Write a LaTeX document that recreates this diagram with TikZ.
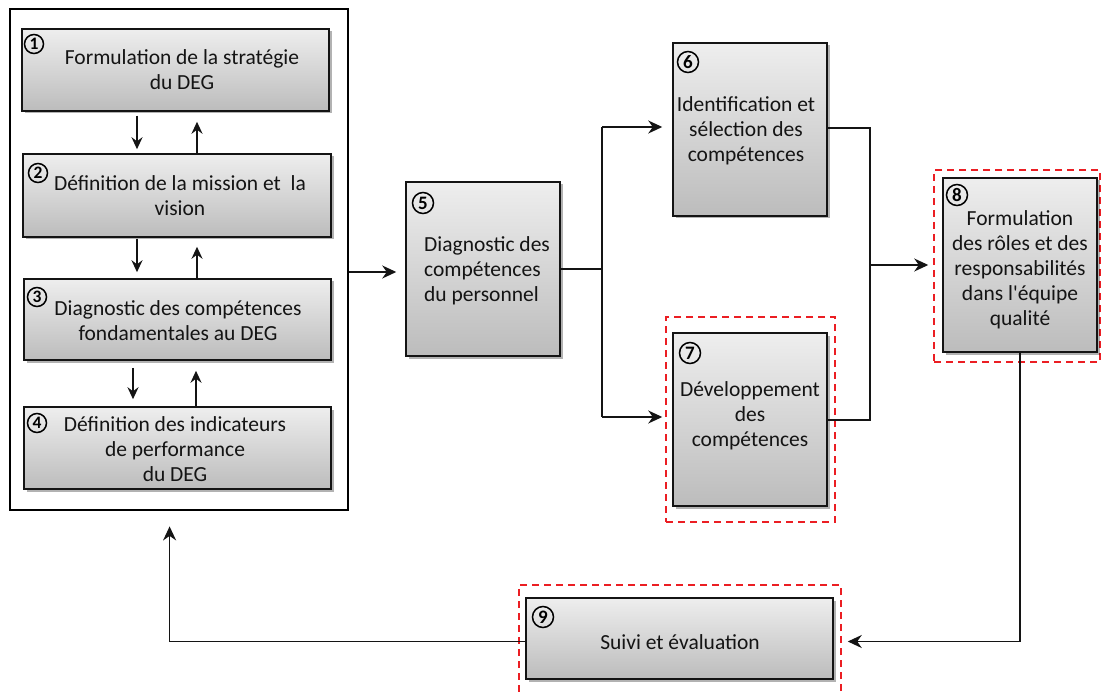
\documentclass[tikz,border=0pt]{standalone}
\usepackage{fontspec}
\setmainfont{Carlito}
\usetikzlibrary{arrows.meta,calc,shadows}

\definecolor{boxtop}{RGB}{238,238,238}
\definecolor{boxbot}{RGB}{188,188,188}
\definecolor{dashred}{RGB}{235,30,35}
\definecolor{ink}{RGB}{20,20,20}

\tikzset{
  stepbox/.style={draw=ink, line width=1.5pt, top color=boxtop, bottom color=boxbot,
    inner sep=0pt, rectangle,
    drop shadow={shadow xshift=2.5pt, shadow yshift=-2.5pt, opacity=.3, fill=black}},
  framebox/.style={draw=black, line width=2.8pt, rectangle, inner sep=0pt},
  focus/.style={draw=dashred, line width=1.8pt, dash pattern=on 7pt off 5pt, rectangle, inner sep=0pt},
  numcirc/.style={circle, draw=black, line width=1.5pt, minimum size=21pt, inner sep=0pt,
    font=\fontsize{19}{19}\selectfont\bfseries},
  smallnum/.style={numcirc, minimum size=19pt, font=\fontsize{17.5}{17.5}\selectfont\bfseries},
  txt/.style={text=ink, align=center, inner sep=0pt, font=\fontsize{21.5}{25}\selectfont},
  conn/.style={draw=ink, line width=1.7pt},
  arr/.style={conn, -{Stealth[length=14pt, width=13pt, inset=4.5pt]}},
  smallarr/.style={conn, -{Stealth[length=12pt, width=11pt, inset=4pt]}},
}

\begin{document}
\begin{tikzpicture}[x=1pt, y=-1pt]
  \useasboundingbox (0,0) rectangle (1101,695);
  \clip (0,0) rectangle (1101,695);

  % left group of four steps
  \node[framebox, minimum width=338pt, minimum height=501pt] (frame) at (179,259.5) {};
  \node[stepbox, minimum width=307pt, minimum height=82pt] (b1) at (175.5,70) {};
  \node[stepbox, minimum width=308pt, minimum height=83pt] (b2) at (177,195.5) {};
  \node[stepbox, minimum width=307pt, minimum height=81pt] (b3) at (177.5,319.5) {};
  \node[stepbox, minimum width=307pt, minimum height=82pt] (b4) at (177.5,448) {};

  % highlighted steps
  \node[focus, minimum width=169pt, minimum height=205pt] (d7) at (750.5,419.5) {};
  \node[focus, minimum width=166pt, minimum height=192pt] (d8) at (1017,266) {};
  \node[focus, minimum width=322pt, minimum height=120pt] (d9) at (680,645) {};

  % remaining steps
  \node[stepbox, minimum width=154pt, minimum height=174pt] (b5) at (483,269) {};
  \node[stepbox, minimum width=154pt, minimum height=173pt] (b6) at (750,129.5) {};
  \node[stepbox, minimum width=154pt, minimum height=173pt] (b7) at (750,419.5) {};
  \node[stepbox, minimum width=154pt, minimum height=174pt] (b8) at (1020,265) {};
  \node[stepbox, minimum width=307pt, minimum height=81pt] (b9) at (679.5,638.5) {};

  % step numbers
  \node[smallnum] (n1) at (34,44) {1};
  \node[smallnum] (n2) at (38,173) {2};
  \node[smallnum] (n3) at (37,297) {3};
  \node[smallnum] (n4) at (37,423) {4};
  \node[numcirc] (n5) at (423,203) {5};
  \node[numcirc] (n6) at (688,62) {6};
  \node[numcirc] (n7) at (690,353) {7};
  \node[numcirc] (n8) at (957,195) {8};
  \node[numcirc] (n9) at (543,617) {9};

  % step texts
  \node[txt] (t1) at (182,70) {Formulation de la stratégie\\du DEG};
  \node[txt] (t2) at (180,196) {Définition de la mission et \ la\\vision};
  \node[txt] (t3) at (178,321) {Diagnostic des compétences\\fondamentales au DEG};
  \node[txt] (t4) at (175,449) {Définition des indicateurs\\de performance\\du DEG};
  \node[txt, align=left, anchor=west] (t5) at (424,271) {Diagnostic des\\compétences\\du personnel};
  \node[txt] (t6) at (746,131) {Identification et\\sélection des\\compétences};
  \node[txt] (t7) at (750,416) {Développement\\des\\compétences};
  \node[txt] (t8) at (1020,270) {Formulation\\des rôles et des\\responsabilités\\dans l\textquotesingle équipe\\qualité};
  \node[txt] (t9) at (680,642) {Suivi et évaluation};

  % back-and-forth arrows inside the left group
  \coordinate (colA) at (137,0);
  \coordinate (colB) at (197,0);
  \coordinate (colC) at (133,0);
  \coordinate (colD) at (196,0);
  \draw[smallarr] ($(b1.south -| colA)+(0,4)$) -- ($(b2.north -| colA)+(0,-4)$);
  \draw[smallarr] (b2.north -| colB) -- ($(b1.south -| colB)+(0,10)$);
  \draw[smallarr] ($(b2.south -| colA)+(0,1)$) -- ($(b3.north -| colA)+(0,-6)$);
  \draw[smallarr] (b3.north -| colB) -- ($(b2.south -| colB)+(0,9)$);
  \draw[smallarr] ($(b3.south -| colC)+(0,7)$) -- ($(b4.north -| colC)+(0,-7)$);
  \draw[smallarr] (b4.north -| colD) -- ($(b3.south -| colD)+(0,10)$);

  % main flow
  \draw[arr, shorten >=9pt] ($(frame.east |- b5.west)+(0,3)$) -- ($(b5.west)+(0,3)$);
  \coordinate (s1) at (602,127);
  \coordinate (s2) at (602,417);
  \draw[conn] (b5.east) -- (b5.east -| s1);
  \draw[conn] (s1) -- (s2);
  \draw[arr, shorten >=10pt] (s1) -- (s1 -| b6.west);
  \draw[arr, shorten >=10pt] (s2) -- (s2 -| b7.west);
  \coordinate (m1) at (870,128);
  \coordinate (m2) at (870,420);
  \coordinate (m3) at (870,265);
  \draw[conn] (m1 -| b6.east) -- (m1) -- (m2) -- (m2 -| b7.east);
  \draw[arr, shorten >=14pt] (m3) -- (m3 -| b8.west);
  \draw[arr, shorten >=14pt] (b8.south) |- ($(b9.east)+(0,3)$);
  \draw[arr, shorten >=15pt] ($(b9.west)+(0,3)$) -| ($(frame.south west)+(161,0)$);
\end{tikzpicture}
\end{document}
